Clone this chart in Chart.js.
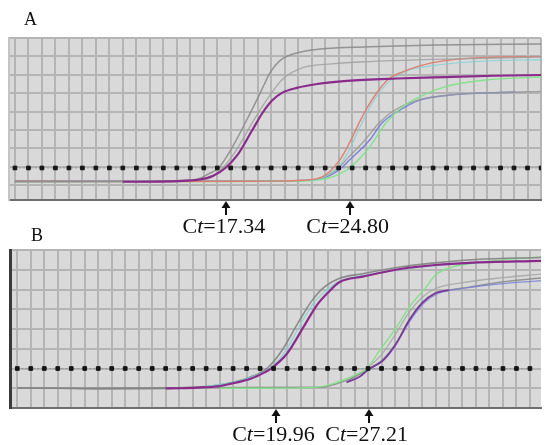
<!DOCTYPE html>
<html><head><meta charset="utf-8">
<script src="https://cdn.jsdelivr.net/npm/chart.js@4.4.0/dist/chart.umd.min.js"></script>
<style>
html,body{margin:0;padding:0;background:#fff;}
#wrap{position:relative;width:546px;height:445px;overflow:hidden;background:#fff;}
canvas{position:absolute;left:0;}
.lbl{position:absolute;font-family:"Liberation Serif","Times New Roman",serif;color:#111;white-space:nowrap;line-height:1;}
.ct{font-size:22px;transform:translateX(-50%);}
</style></head><body>
<div id="wrap">
<canvas id="cA" width="546" height="240" style="top:0"></canvas>
<canvas id="cB" width="546" height="205" style="top:240px"></canvas>
<div class="lbl" style="left:24px;top:10px;font-size:18px">A</div>
<div class="lbl" style="left:31px;top:226px;font-size:18px">B</div>
</div>
<script>
// ---- Panel A (x = cycle grid units, y = fluorescence grid units) ----
const aThreshold = 0.94;
const aPurple = [[8,0.19],[10.6,0.2],[12.5,0.24],[13.6,0.3],[14.7,0.52],[15.6,0.94],[16.5,1.65],[17.6,3.0],[18.4,3.98],[19.1,4.63],[19.8,5.02],[20.9,5.29],[22.4,5.5],[24.6,5.67],[28.3,5.8],[31.9,5.88],[35.5,5.95],[39,5.99]];
const aGray1 = [[0,0.2],[6,0.2],[12,0.25],[13.6,0.35],[14.3,0.6],[15.1,0.94],[16.0,1.92],[17.5,4.0],[18.5,5.5],[18.9,6.1],[19.7,6.8],[20.9,7.19],[22.6,7.4],[26.3,7.52],[31.2,7.62],[39,7.68]];
const aGray2 = [[0,0.18],[13,0.25],[14.5,0.4],[15.4,0.94],[16.4,1.9],[17.6,3.4],[18.9,4.9],[19.9,5.8],[21.4,6.4],[23.5,6.6],[26.3,6.72],[33.6,6.88],[39,6.97]];
const aRed = [[0,0.22],[10,0.2],[18,0.22],[21,0.26],[22.4,0.36],[23.0,0.55],[23.6,0.94],[24.2,1.5],[24.8,2.3],[25.8,3.8],[26.8,5.0],[27.75,5.8],[28.7,6.15],[30.9,6.65],[34.9,6.95],[39,6.99]];
const aBlue = [[0,0.22],[15,0.22],[20,0.24],[22.4,0.32],[23.4,0.55],[24.2,0.94],[24.8,1.37],[26.3,2.46],[27.2,3.38],[28.3,3.98],[30.0,4.63],[32.4,4.91],[37.1,5.07]];
const aGray3 = [[0,0.22],[20,0.24],[22.4,0.32],[23.3,0.6],[24.0,0.94],[24.7,1.5],[26.0,2.5],[27.0,3.4],[28.2,4.1],[30.0,4.65],[32.5,4.92],[36,5.04],[39,5.1]];
const aGreen = [[0,0.2],[15,0.2],[20,0.22],[22.6,0.3],[23.9,0.55],[24.8,0.94],[26.3,2.08],[27.5,3.38],[28.7,4.25],[30.0,4.8],[31.2,5.18],[32.4,5.45],[34.9,5.72],[37,5.82],[39,5.88]];
const aCyan = [[15,0.2],[20,0.23],[22.4,0.3],[23.3,0.6],[23.9,0.94],[24.7,1.8],[25.6,3.2],[26.6,4.6],[27.7,5.6],[29,6.2],[31,6.5],[34.9,6.75],[39,6.82]];
const aCtPos = [15.64, 24.82];
const aCtText = ['17.34', '24.80'];

// ---- Panel B ----
const bThreshold = 2.0;
const bPurple = [[11,0.99],[12,1.0],[13.4,1.03],[14.9,1.1],[15.8,1.22],[17.3,1.48],[18.3,1.79],[18.8,1.99],[20.0,2.76],[21.2,4.08],[22.2,5.2],[23.0,5.82],[23.9,6.38],[25.6,6.65],[28.5,7.05],[31.0,7.24],[33.5,7.35],[38.82,7.45]];
const bGray1 = [[0,1.02],[3,1.0],[6,0.97],[9,0.98],[12,1.02],[14.5,1.12],[16,1.3],[17.2,1.55],[18.5,2.0],[19.6,2.9],[20.8,4.3],[21.8,5.4],[22.7,6.1],[23.8,6.55],[25.6,6.8],[28.5,7.15],[31,7.35],[34,7.52],[38.82,7.62]];
const bCyan = [[14,1.1],[16,1.3],[17.5,1.6],[18.7,2.0],[19.9,2.9],[21.0,4.25],[22.0,5.35],[22.9,5.95],[24,6.45],[26,6.75],[30,7.15],[34,7.35],[38.82,7.45]];
const bGreen = [[15,1.0],[18,1.0],[21,1.02],[22.5,1.08],[23.5,1.25],[24.4,1.48],[25.3,1.75],[25.9,1.99],[26.85,2.91],[28.1,4.08],[29.05,5.1],[30.3,6.12],[31.0,6.73],[32.0,7.09],[34.0,7.35],[35.9,7.5],[38.82,7.65]];
const bPurple2 = [[24.4,1.3],[25.4,1.6],[26.1,1.99],[27.1,2.4],[28.1,3.27],[29.05,4.44],[30.0,5.31],[31.0,5.82],[32,5.97]];
const bGray2 = [[0,1.0],[22.5,1.05],[24.4,1.4],[25.6,1.79],[26.2,2.0],[27.1,2.45],[28.1,3.3],[29.0,4.4],[30.0,5.3],[31.0,5.8],[32,5.97],[33.5,6.12],[35.9,6.38],[38.82,6.58]];
const bGray3 = [[24.5,1.4],[25.9,2.0],[27,2.7],[28,3.7],[29,4.8],[30,5.6],[31,6.05],[33,6.35],[36,6.6],[38.82,6.78]];
const bBlue = [[26.2,2.0],[27.2,2.5],[28.2,3.4],[29.2,4.5],[30.2,5.35],[31.2,5.8],[33,6.05],[36,6.3],[38.82,6.45]];
const bCtPos = [19.14, 26.04];
const bCtText = ['19.96', '27.21'];

const pts = arr => arr.map(p => ({x: p[0], y: p[1]}));
const intTicks = (lo, hi) => { const t = []; for (let v = lo; v <= hi; v++) t.push({value: v}); return t; };

const bgPlugin = {
  id: 'bgfill',
  beforeDraw(chart) {
    const {ctx, chartArea: a} = chart;
    ctx.save(); ctx.fillStyle = '#d9d9d9';
    ctx.fillRect(a.left, a.top, a.right - a.left, a.bottom - a.top);
    ctx.restore();
  }
};
const arrowPlugin = {
  id: 'ctArrows',
  afterDraw(chart, args, opts) {
    const {ctx, chartArea: a, scales} = chart;
    ctx.save(); ctx.strokeStyle = '#111'; ctx.fillStyle = '#111'; ctx.lineWidth = 2;
    (opts.values || []).forEach(v => {
      const x = Math.round(scales.x.getPixelForValue(v));
      const tip = a.bottom + 1, end = a.bottom + 15;
      ctx.beginPath(); ctx.moveTo(x, end); ctx.lineTo(x, tip + 5); ctx.stroke();
      ctx.beginPath(); ctx.moveTo(x, tip); ctx.lineTo(x - 4.5, tip + 7); ctx.lineTo(x + 4.5, tip + 7); ctx.closePath(); ctx.fill();
    });
    ctx.restore();
  }
};

function curve(data, color, width) {
  return {data: pts(data), borderColor: color, borderWidth: width || 1.4, pointRadius: 0, cubicInterpolationMode: 'monotone', fill: false};
}
function threshold(val, lo, hi) {
  const d = []; for (let v = lo; v <= hi; v++) d.push({x: v, y: val});
  return {data: d, borderColor: 'rgba(120,120,120,0.55)', borderWidth: 1, borderDash: [2, 2], pointStyle: 'rect', pointRadius: 2.6, pointBackgroundColor: '#151515', pointBorderColor: '#151515', pointBorderWidth: 1, fill: false};
}

function makeChart(id, cfg) {
  return new Chart(document.getElementById(id), {
    type: 'line',
    data: {datasets: cfg.datasets},
    options: {
      responsive: false, animation: false, events: [],
      layout: {padding: cfg.padding},
      plugins: {legend: {display: false}, tooltip: {enabled: false}, ctArrows: {values: cfg.arrows}},
      scales: {
        x: {type: 'linear', min: cfg.xmin, max: cfg.xmax,
            afterBuildTicks: s => { s.ticks = intTicks(0, Math.floor(cfg.xmax)); },
            ticks: {display: false},
            grid: {color: '#b4b4b4', lineWidth: 2, drawTicks: false},
            border: {display: true, color: '#6e6e6e', width: 2}},
        y: {type: 'linear', min: cfg.ymin, max: cfg.ymax,
            afterBuildTicks: s => { s.ticks = intTicks(0, Math.floor(cfg.ymax)); },
            ticks: {display: false},
            grid: {color: '#b4b4b4', lineWidth: 2, drawTicks: false},
            border: {display: true, color: cfg.leftColor, width: cfg.leftWidth}}
      }
    },
    plugins: [bgPlugin, arrowPlugin]
  });
}

const chartA = makeChart('cA', {
  padding: {left: 9, top: 38, right: 0, bottom: 40},
  xmin: -0.44, xmax: 39, ymin: -0.8, ymax: 8,
  leftColor: '#c4c4c4', leftWidth: 2, arrows: aCtPos,
  datasets: [
    threshold(aThreshold, 0, 39),
    curve(aPurple, '#8a2b8c', 2.2),
    curve(aGray1, 'rgba(140,140,140,0.9)', 1.5),
    curve(aGray2, 'rgba(160,160,160,0.85)', 1.3),
    curve(aRed, 'rgba(226,122,108,0.95)', 1.4),
    curve(aCyan, 'rgba(120,210,215,0.8)', 1.2),
    curve(aGreen, 'rgba(130,225,135,0.95)', 1.4),
    curve(aGray3, 'rgba(150,150,150,0.85)', 1.3),
    curve(aBlue, 'rgba(115,125,215,0.95)', 1.4)
  ]
});
const chartB = makeChart('cB', {
  padding: {left: 10, top: 10, right: 0, bottom: 37},
  xmin: -0.54, xmax: 38.82, ymin: 0, ymax: 8,
  leftColor: '#3a3a3a', leftWidth: 3, arrows: bCtPos,
  datasets: [
    threshold(bThreshold, 0, 38),
    curve(bPurple, '#8a2b8c', 2.2),
    curve(bCyan, 'rgba(120,210,215,0.8)', 1.2),
    curve(bGray1, 'rgba(130,130,130,0.9)', 1.6),
    curve(bGreen, 'rgba(130,225,135,0.95)', 1.4),
    curve(bPurple2, '#7a3a9a', 1.8),
    curve(bBlue, 'rgba(115,125,215,0.8)', 1.2),
    curve(bGray2, 'rgba(140,140,140,0.9)', 1.4),
    curve(bGray3, 'rgba(165,165,165,0.85)', 1.3)
  ]
});

function addCt(chart, canvasTop, positions, texts, textTop) {
  const wrap = document.getElementById('wrap');
  positions.forEach((v, i) => {
    const d = document.createElement('div');
    d.className = 'lbl ct';
    d.innerHTML = 'C<i>t</i>=' + texts[i];
    d.style.left = (chart.scales.x.getPixelForValue(v) - 2) + 'px';
    d.style.top = (canvasTop + textTop) + 'px';
    wrap.appendChild(d);
  });
}
addCt(chartA, 0, aCtPos, aCtText, 215);
addCt(chartB, 240, bCtPos, bCtText, 183);
</script>
</body></html>
